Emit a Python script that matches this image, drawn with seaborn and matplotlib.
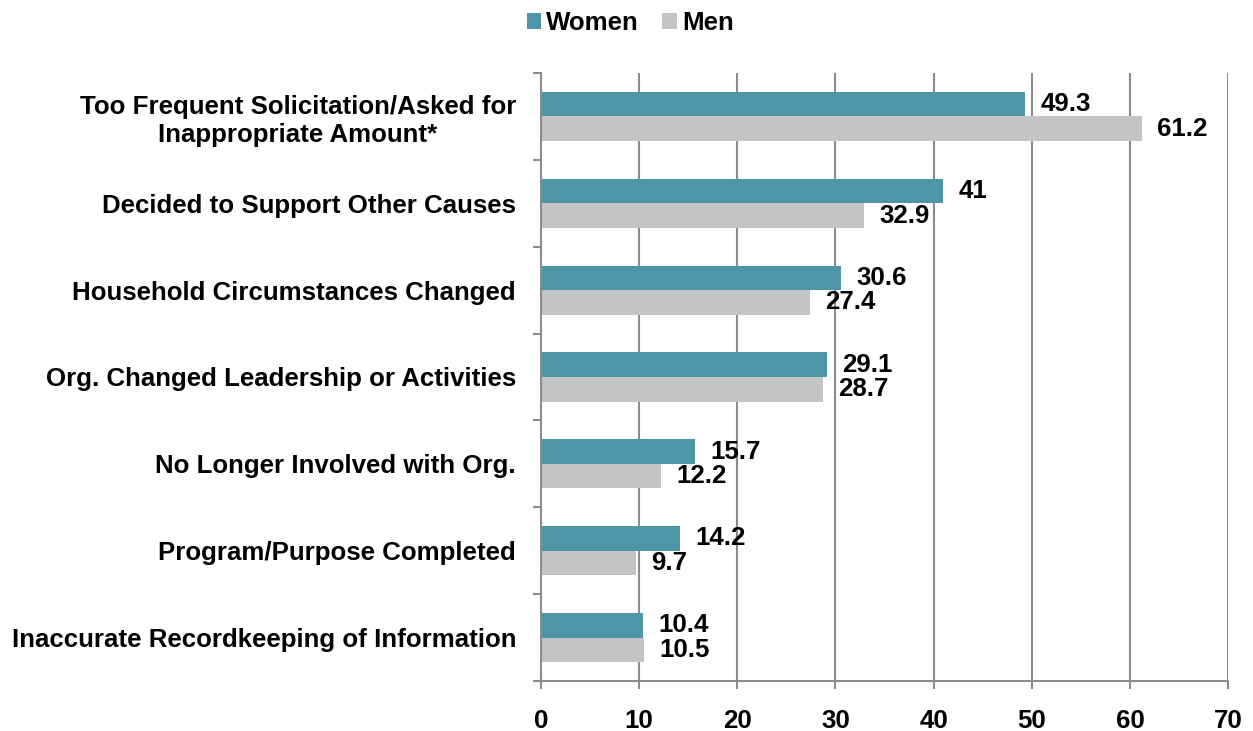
import pandas as pd
import matplotlib.pyplot as plt
import seaborn as sns

reasons = [
    "Too Frequent Solicitation/Asked for\nInappropriate Amount*",
    "Decided to Support Other Causes",
    "Household Circumstances Changed",
    "Org. Changed Leadership or Activities",
    "No Longer Involved with Org.",
    "Program/Purpose Completed",
    "Inaccurate Recordkeeping of Information",
]
women = [49.3, 41, 30.6, 29.1, 15.7, 14.2, 10.4]
men = [61.2, 32.9, 27.4, 28.7, 12.2, 9.7, 10.5]
women_labels = ["49.3", "41", "30.6", "29.1", "15.7", "14.2", "10.4"]
men_labels = ["61.2", "32.9", "27.4", "28.7", "12.2", "9.7", "10.5"]

df = pd.DataFrame({
    "reason": reasons * 2,
    "value": women + men,
    "sex": ["Women"] * len(reasons) + ["Men"] * len(reasons),
})

sns.set_style("white")
plt.rcParams["font.family"] = ["Liberation Sans", "DejaVu Sans"]
plt.rcParams["font.weight"] = "bold"
plt.rcParams["text.color"] = "black"
plt.rcParams["xtick.color"] = "black"
plt.rcParams["ytick.color"] = "black"

FS = 18.6

fig = plt.figure(figsize=(12.53, 7.31), dpi=100)
ax = fig.add_axes([0.4318, 0.0684, 0.5483, 0.8318])

sns.barplot(data=df, x="value", y="reason", hue="sex", orient="h",
            palette={"Women": "#4E95A9", "Men": "#C4C4C6"},
            width=0.565, saturation=1, linewidth=0, ax=ax, legend=True)

# value labels next to each bar
for cont, labs in zip(ax.containers, [women_labels, men_labels]):
    ax.bar_label(cont, labels=labs, padding=11, fontsize=FS, fontweight="bold",
                 color="black")

ax.set_xlim(0, 70)
ax.set_ylim(len(reasons) - 0.5, -0.5)
ax.set_xticks(range(0, 71, 10))
# ticks sit between categories, labels at category centres
ax.set_yticks([i - 0.5 for i in range(len(reasons) + 1)], minor=False)
ax.set_yticklabels([])
ax.set_yticks(range(len(reasons)), minor=True)
ax.set_yticklabels(reasons, minor=True)
ax.tick_params(axis="y", which="minor", length=0, pad=18, labelsize=FS,
               labelcolor="black")
ax.tick_params(axis="y", which="major", length=6, width=1.5, color="#8c8c8c",
               direction="out", left=True)
ax.tick_params(axis="x", length=6, width=1.5, color="#8c8c8c", direction="out",
               bottom=True, pad=14, labelsize=FS, labelcolor="black")
for t in ax.get_yticklabels(minor=True):
    t.set_multialignment("center")
    t.set_fontweight("bold")
for t in ax.get_xticklabels():
    t.set_fontweight("bold")

ax.xaxis.grid(True, color="#8c8c8c", linewidth=1.5)
ax.yaxis.grid(False)
ax.set_axisbelow(True)
for s in ["top", "right"]:
    ax.spines[s].set_visible(False)
for s in ["left", "bottom"]:
    ax.spines[s].set_color("#8c8c8c")
    ax.spines[s].set_linewidth(1.5)
ax.set_xlabel("")
ax.set_ylabel("")

handles, labels = ax.get_legend_handles_labels()
ax.legend(handles, labels, loc="center", bbox_to_anchor=(0.503, 0.968),
          bbox_transform=fig.transFigure, ncol=2, frameon=False,
          prop={"size": FS, "weight": "bold"}, handlelength=0.55, handleheight=0.55,
          handletextpad=0.2, columnspacing=0.9)

fig.savefig("out.png", dpi=100)
